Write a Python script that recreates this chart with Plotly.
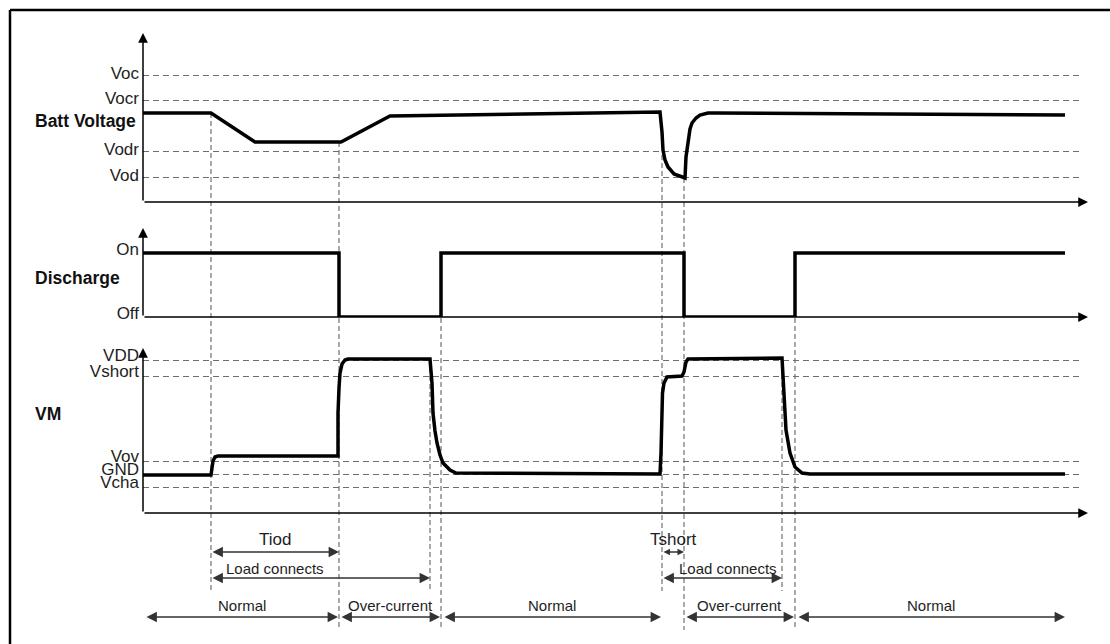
"""Over-current / short-circuit protection timing diagram."""

import plotly.graph_objects as go

W, H = 1110, 644

# battery voltage trace (time, level)
batt_t = [0, 68, 112, 198, 247, 517, 519, 520, 522, 525, 531, 538, 541, 542, 543, 545, 547, 549, 553, 557, 565, 572, 922]
batt_v = [89, 89, 60, 60, 86, 90, 70, 52, 42, 35, 28, 25, 24, 24, 45, 62, 73, 79, 84, 87, 89, 89, 87]
batt_ticks = [127, 102, 51, 25]
batt_labels = ["Voc", "Vocr", "Vodr", "Vod"]

# discharge FET state
dis_t = [0, 196, 196, 298, 298, 541, 541, 652, 652, 922]
dis_v = [1, 1, 0, 0, 1, 1, 0, 0, 1, 1]
dis_ticks = [1, 0]
dis_labels = ["On", "Off"]

# VM pin voltage
vm_t = [0, 68, 69, 70, 72, 75, 195, 195, 196, 197, 199, 202, 205, 287, 289, 290, 292, 294, 297,
        300, 307, 313, 517, 518, 519, 519.5, 521, 524, 539, 541, 543, 545, 639, 641, 643, 647,
        652, 659, 667, 922]
vm_v = [38, 38, 45, 52, 56, 57, 57, 100, 125, 140, 149, 153, 154, 154, 130, 100, 82, 70, 58,
        50, 43, 40, 39, 60, 100, 120, 130, 136, 137, 141, 151, 154, 155, 116, 83, 60,
        46, 40, 39, 39]
vm_ticks = [153, 137, 52, 39, 26]
vm_labels = ["VDD", "Vshort", "Vov", "GND", "Vcha"]

# event times: load on, Tiod end, load off, discharge on, short on, Tshort end, load off, discharge on
events = [68, 196, 287, 298, 519, 541, 639, 652]
event_top = [113, 142, 360, 318, 155, 178, 358, 318]
event_bottom = [591, 630, 591, 630, 591, 630, 591, 630]

# timing spans
span_labels = ["Tiod", "Tshort"]
span_t = [(68, 196), (519, 541)]
load_t = [(68, 287), (519, 639)]
load_label_t = [132, 585]
state_labels = ["Normal", "Over-current", "Normal", "Over-current", "Normal"]
state_t = [(2, 195), (197, 297), (300, 518), (542, 651), (654, 922)]

FONT = "Arial, Liberation Sans, sans-serif"


def px(x):
    return x / W


def py(y):
    return 1 - y / H


fig = go.Figure()
line = dict(color="black", width=3.5)
fig.add_trace(go.Scatter(x=batt_t, y=batt_v, mode="lines", line=line, yaxis="y"))
fig.add_trace(go.Scatter(x=dis_t, y=dis_v, mode="lines", line=line, yaxis="y2"))
fig.add_trace(go.Scatter(x=vm_t, y=vm_v, mode="lines", line=line, yaxis="y3"))

base = dict(zeroline=False, showline=False, ticks="", fixedrange=True, automargin=False,
            ticklabelstandoff=3, tickfont=dict(family=FONT, size=17, color="#1e1e1e"))
grid = dict(showgrid=True, gridcolor="#6e6e6e", gridwidth=1, griddash="6px,4px")

fig.update_layout(
    width=W, height=H, margin=dict(l=0, r=0, t=0, b=0, autoexpand=False),
    paper_bgcolor="white", plot_bgcolor="white", showlegend=False,
    xaxis=dict(domain=[px(143), px(1081)], range=[0, 938], showgrid=False, automargin=False,
               zeroline=False, showticklabels=False, fixedrange=True),
    yaxis=dict(domain=[py(202), py(33)], range=[0, 169], tickvals=batt_ticks,
               ticktext=batt_labels, ticklabelshift=-2, **base, **grid),
    yaxis2=dict(domain=[py(317), py(228)], range=[0, 89 / 64], tickvals=dis_ticks,
                ticktext=dis_labels, showgrid=False, ticklabelshift=-4, anchor="x", **base),
    yaxis3=dict(domain=[py(513), py(348)], range=[0, 165], tickvals=vm_ticks,
                ticktext=vm_labels, ticklabelshift=-5, anchor="x", **base, **grid),
)

shapes = [
    dict(type="line", xref="paper", yref="paper", x0=px(10), x1=1, y0=py(10), y1=py(10),
         line=dict(color="black", width=2.5)),
    dict(type="line", xref="paper", yref="paper", x0=px(10), x1=px(10), y0=py(10), y1=0,
         line=dict(color="black", width=2.5)),
]
for t, top, bot in zip(events, event_top, event_bottom):
    shapes.append(dict(type="line", xref="x", yref="paper", x0=t, x1=t, y0=py(top), y1=py(bot),
                       layer="below", line=dict(color="#555555", width=1, dash="5px,3px")))
fig.update_layout(shapes=shapes)

ann = []
# axis arrows
for top, bottom in [(33, 202), (228, 317), (348, 513)]:
    ann.append(dict(xref="paper", yref="paper", x=px(143), y=py(top), ax=0, ay=bottom - top,
                    text="", showarrow=True, arrowhead=2, arrowsize=1.3, arrowwidth=1.5,
                    arrowcolor="black"))
    ann.append(dict(xref="paper", yref="paper", x=px(1088), y=py(bottom), ax=143 - 1088, ay=0,
                    text="", showarrow=True, arrowhead=2, arrowsize=1.3, arrowwidth=1.5,
                    arrowcolor="black"))

# bold panel names
for name, y in [("Batt Voltage", 121), ("Discharge", 278), ("VM", 414)]:
    ann.append(dict(xref="paper", yref="paper", x=px(33), y=py(y), xanchor="left", yanchor="middle",
                    text="<b>%s</b>" % name, showarrow=False,
                    font=dict(family=FONT, size=17.5, color="#111111")))


def span(t0, t1, y):
    size = 1.6 if t1 - t0 > 40 else 1.0
    return dict(xref="x", yref="paper", x=t1, y=py(y), axref="x", ayref="pixel", ax=t0, ay=0,
                text="", showarrow=True, arrowside="end+start", arrowhead=2, startarrowhead=2,
                arrowsize=size, startarrowsize=size, arrowwidth=1.3, arrowcolor="#333333")


def label(text, t, y, size):
    return dict(xref="x", yref="paper", x=t, y=py(y), text=text, showarrow=False,
                yanchor="middle", font=dict(family=FONT, size=size, color="#1e1e1e"))


for text, (t0, t1) in zip(span_labels, span_t):
    ann.append(span(t0, t1, 552))
    ann.append(label(text, (t0 + t1) / 2, 539, 17))
for (t0, t1), tc in zip(load_t, load_label_t):
    ann.append(span(t0, t1, 578))
    ann.append(label("Load connects", tc, 568, 15))
for text, (t0, t1) in zip(state_labels, state_t):
    ann.append(span(t0, t1, 617))
    ann.append(label(text, (t0 + t1) / 2, 605, 15))

fig.update_layout(annotations=ann)

fig.write_html("out.html", config={"displayModeBar": False},
               post_script="document.body.style.margin='0';")
